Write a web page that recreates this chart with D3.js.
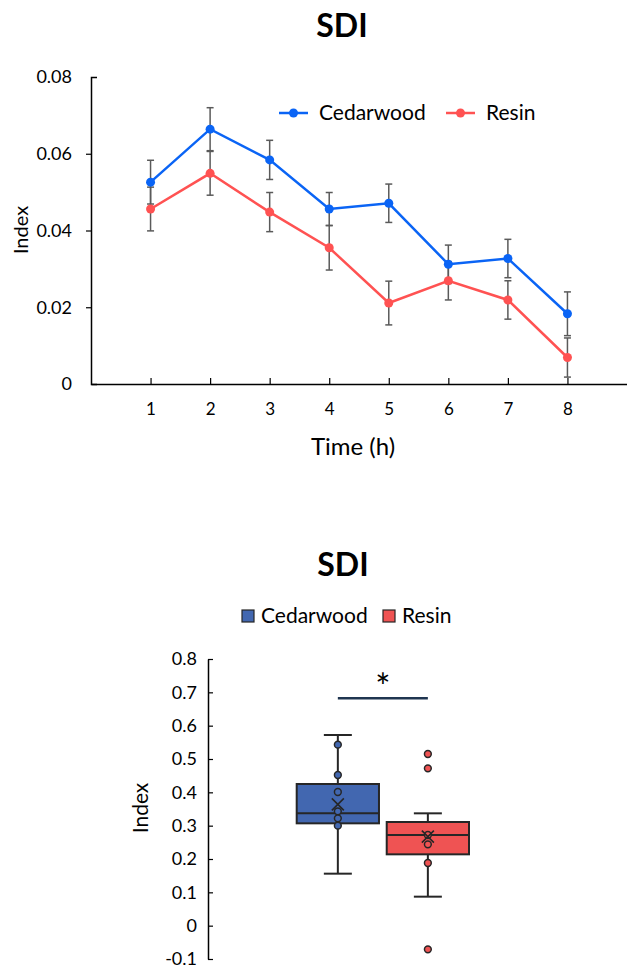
<!DOCTYPE html>
<html>
<head>
<meta charset="utf-8">
<script src="https://cdn.jsdelivr.net/npm/d3@7"></script>
<style>
  body { margin: 0; background: #fff; }
  svg { font-family: Lato, "Open Sans", sans-serif; }
</style>
</head>
<body>
<div id="chart"></div>
<script>
// line chart data (mean +/- error per hour)
var hours = [1, 2, 3, 4, 5, 6, 7, 8];
var cedarMean = [0.0526, 0.0664, 0.0584, 0.0456, 0.0471, 0.0312, 0.0327, 0.0183];
var cedarErr  = [0.0057, 0.0056, 0.0051, 0.0043, 0.0050, 0.0050, 0.0050, 0.0057];
var resinMean = [0.0456, 0.0549, 0.0448, 0.0355, 0.0211, 0.0269, 0.0219, 0.0069];
var resinErr  = [0.0057, 0.0057, 0.0051, 0.0058, 0.0057, 0.0050, 0.0050, 0.0051];
var lineTicks = [0, 0.02, 0.04, 0.06, 0.08];

// box plot data
var groups = ["Cedarwood", "Resin"];
var boxStats = [
  {min: 0.156, q1: 0.307, median: 0.337, q3: 0.425, max: 0.572, mean: 0.364},
  {min: 0.087, q1: 0.214, median: 0.272, q3: 0.311, max: 0.337, mean: 0.267}
];
var cedarPoints = [0.543, 0.452, 0.401, 0.343, 0.322, 0.300];
var resinPoints = [0.515, 0.472, 0.272, 0.244, 0.188, -0.071];
var boxTicks = [-0.1, 0, 0.1, 0.2, 0.3, 0.4, 0.5, 0.6, 0.7, 0.8];
var sigLevel = 0.682;

var blue = "#0a64f5", red = "#ff5252";
var boxBlue = "#4267b0", boxRed = "#ef5353";

var svg = d3.select("#chart").append("svg")
    .attr("width", 627)
    .attr("height", 966);

// ---------- top: line chart ----------
var x = d3.scaleLinear().domain([0, 9]).range([91, 627]);
var y = d3.scaleLinear().domain([0, 0.08]).range([384, 77]);

var lineG = svg.append("g");

lineG.append("text")
    .attr("x", 342).attr("y", 37)
    .attr("text-anchor", "middle")
    .style("font-size", "32px").style("font-weight", "bold")
    .text("SDI");

var yAxis = lineG.append("g")
    .attr("transform", "translate(91,0)")
    .call(d3.axisLeft(y).tickValues(lineTicks).tickSize(5).tickSizeOuter(-6).tickPadding(14)
      .tickFormat(function(d) { return String(+d.toFixed(2)); }));
yAxis.selectAll(".tick").filter(function(d) { return d === 0.08 || d === 0; }).select("line").remove();

var xAxis = lineG.append("g")
    .attr("transform", "translate(0,384)")
    .call(d3.axisBottom(x).tickValues(hours).tickSize(-6).tickSizeOuter(0).tickPadding(19));

[yAxis, xAxis].forEach(function(a) {
  a.select(".domain").attr("stroke", "#000").attr("stroke-width", 1.5);
  a.selectAll(".tick line").attr("stroke", "#000").attr("stroke-width", 1.2);
  a.selectAll(".tick text").style("font-size", "18px").attr("fill", "#000")
      .style("font-family", "Lato, sans-serif");
});
xAxis.selectAll(".tick text").style("font-size", "17px");

lineG.append("text")
    .attr("transform", "translate(28,230) rotate(-90)")
    .attr("text-anchor", "middle")
    .style("font-size", "20px")
    .text("Index");

lineG.append("text")
    .attr("x", 353).attr("y", 455)
    .attr("text-anchor", "middle")
    .style("font-size", "24px")
    .text("Time (h)");

var line = d3.line()
    .x(function(d) { return x(d.h); })
    .y(function(d) { return y(d.v); });

var series = [
  {name: "Cedarwood", color: blue, data: hours.map(function(h, i) { return {h: h, v: cedarMean[i], e: cedarErr[i]}; })},
  {name: "Resin", color: red, data: hours.map(function(h, i) { return {h: h, v: resinMean[i], e: resinErr[i]}; })}
];

// error bars first, under the lines
series.forEach(function(s) {
  var eb = lineG.append("g").attr("stroke", "#5a5a5a").attr("stroke-width", 1.5);
  s.data.forEach(function(d) {
    eb.append("line").attr("x1", x(d.h)).attr("x2", x(d.h))
        .attr("y1", y(d.v - d.e)).attr("y2", y(d.v + d.e));
    [d.v - d.e, d.v + d.e].forEach(function(v) {
      eb.append("line").attr("x1", x(d.h) - 3.5).attr("x2", x(d.h) + 3.5)
          .attr("y1", y(v)).attr("y2", y(v));
    });
  });
});

series.forEach(function(s) {
  lineG.append("path")
      .datum(s.data)
      .attr("fill", "none")
      .attr("stroke", s.color)
      .attr("stroke-width", 2.5)
      .attr("d", line);
  lineG.selectAll(null)
      .data(s.data)
    .enter().append("circle")
      .attr("cx", function(d) { return x(d.h); })
      .attr("cy", function(d) { return y(d.v); })
      .attr("r", 4.5)
      .attr("fill", s.color);
});

// legend
var legX = [279, 446];
series.forEach(function(s, i) {
  var g = lineG.append("g").attr("transform", "translate(" + legX[i] + ",113)");
  g.append("line").attr("x1", 0).attr("x2", 29).attr("stroke", s.color).attr("stroke-width", 2.5);
  g.append("circle").attr("cx", 14.5).attr("r", 4.5).attr("fill", s.color);
  g.append("text").attr("x", 40).attr("y", 7).style("font-size", "21px").text(s.name);
});

// ---------- bottom: box plot ----------
var yb = d3.scaleLinear().domain([-0.1, 0.8]).range([959, 659]);
var xb = d3.scaleBand().domain(groups).range([296.7, 469]).paddingInner(0.086);

var boxG = svg.append("g");

boxG.append("text")
    .attr("x", 343).attr("y", 576)
    .attr("text-anchor", "middle")
    .style("font-size", "32px").style("font-weight", "bold")
    .text("SDI");

var boxColors = [boxBlue, boxRed];
var legBX = [242, 383];
groups.forEach(function(gname, i) {
  var g = boxG.append("g").attr("transform", "translate(" + legBX[i] + ",610)");
  g.append("rect").attr("width", 12).attr("height", 12)
      .attr("fill", boxColors[i]).attr("stroke", "#262626").attr("stroke-width", 1.2);
  g.append("text").attr("x", 19).attr("y", 13).style("font-size", "21px").text(gname);
});

var ybAxis = boxG.append("g")
    .attr("transform", "translate(208,0)")
    .call(d3.axisLeft(yb).tickValues(boxTicks).tickSizeInner(-5).tickSizeOuter(0).tickPadding(11)
      .tickFormat(function(d) { return String(+d.toFixed(1)); }));
ybAxis.select(".domain").attr("stroke", "#000").attr("stroke-width", 1.5);
ybAxis.selectAll(".tick line").attr("stroke", "#000").attr("stroke-width", 1.2);
ybAxis.selectAll(".tick text").style("font-size", "18px").attr("fill", "#000")
    .style("font-family", "Lato, sans-serif");

boxG.append("text")
    .attr("transform", "translate(148,808) rotate(-90)")
    .attr("text-anchor", "middle")
    .style("font-size", "21px")
    .text("Index");

var pointSets = [cedarPoints, resinPoints];
groups.forEach(function(gname, i) {
  var st = boxStats[i];
  var x0 = xb(gname), bw = xb.bandwidth(), cx = x0 + bw / 2;
  var g = boxG.append("g").attr("stroke", "#262626").attr("stroke-width", 2);
  g.append("line").attr("x1", cx).attr("x2", cx).attr("y1", yb(st.max)).attr("y2", yb(st.q3));
  g.append("line").attr("x1", cx).attr("x2", cx).attr("y1", yb(st.q1)).attr("y2", yb(st.min));
  [st.max, st.min].forEach(function(v) {
    g.append("line").attr("x1", cx - 14).attr("x2", cx + 14).attr("y1", yb(v)).attr("y2", yb(v));
  });
  g.append("rect")
      .attr("x", x0).attr("width", bw)
      .attr("y", yb(st.q3)).attr("height", yb(st.q1) - yb(st.q3))
      .attr("fill", boxColors[i]);
  g.append("line").attr("x1", x0).attr("x2", x0 + bw).attr("y1", yb(st.median)).attr("y2", yb(st.median));
  g.selectAll(null)
      .data(pointSets[i])
    .enter().append("circle")
      .attr("cx", cx).attr("cy", function(d) { return yb(d); })
      .attr("r", 3.4)
      .attr("fill", boxColors[i])
      .attr("stroke-width", 1.5);
  var my = yb(st.mean);
  g.append("path")
      .attr("d", "M" + (cx - 6) + "," + (my - 6) + "L" + (cx + 6) + "," + (my + 6) +
                 "M" + (cx + 6) + "," + (my - 6) + "L" + (cx - 6) + "," + (my + 6))
      .attr("stroke-width", 1.6);
});

// significance bar
var c0 = xb(groups[0]) + xb.bandwidth() / 2, c1 = xb(groups[1]) + xb.bandwidth() / 2;
boxG.append("line")
    .attr("x1", c0).attr("x2", c1)
    .attr("y1", yb(sigLevel)).attr("y2", yb(sigLevel))
    .attr("stroke", "#1f3550").attr("stroke-width", 2.5);
boxG.append("text")
    .attr("x", (c0 + c1) / 2).attr("y", yb(sigLevel) + 2)
    .attr("text-anchor", "middle")
    .style("font-size", "36px")
    .text("*");
</script>
</body>
</html>
